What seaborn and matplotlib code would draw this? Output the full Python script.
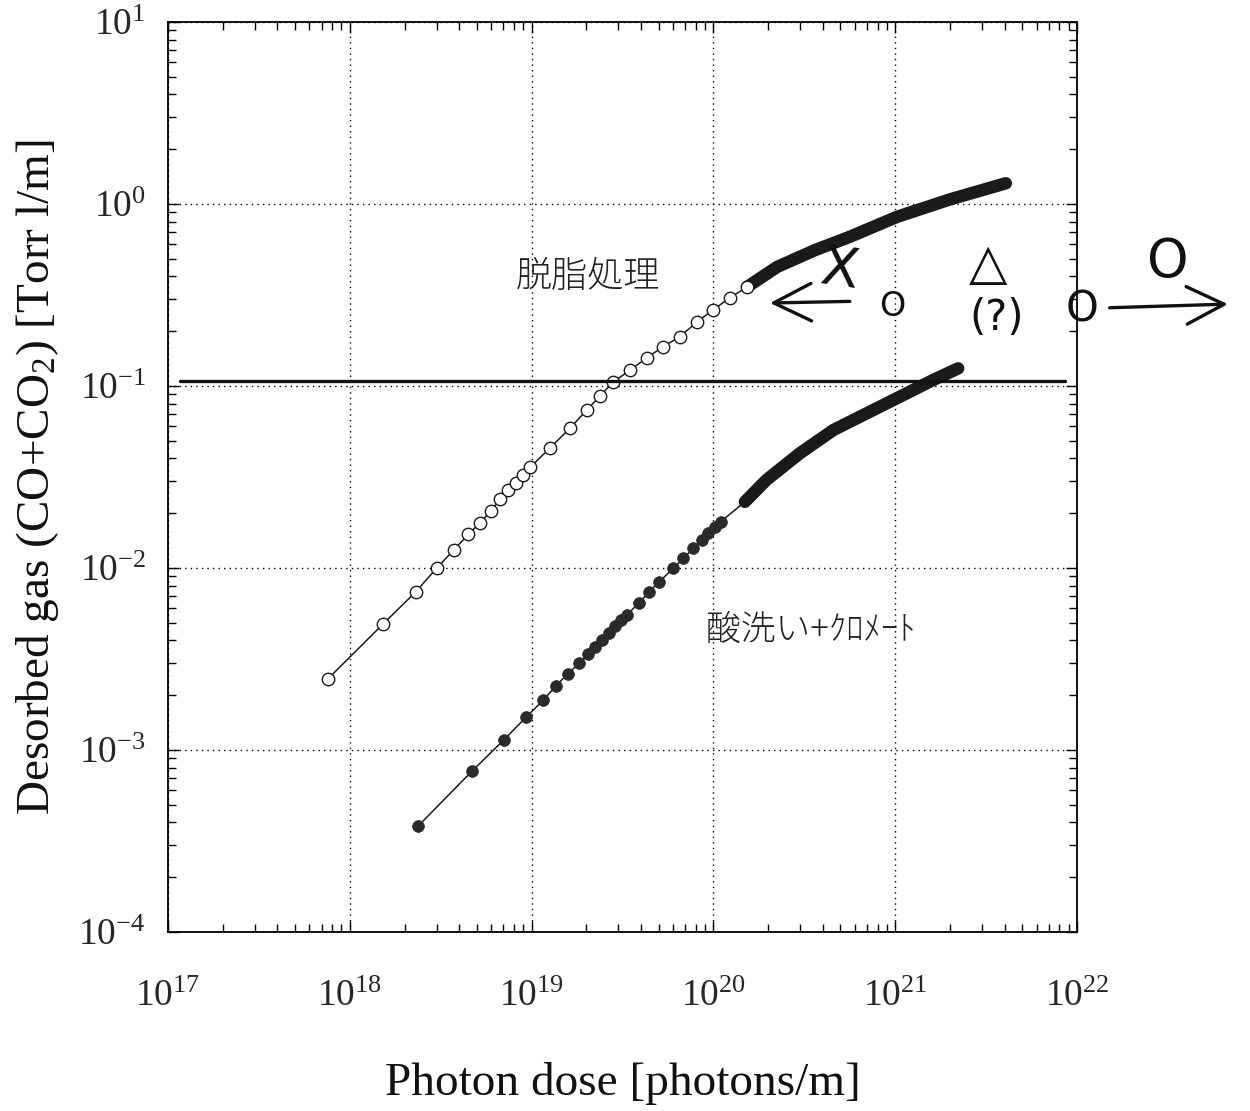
import matplotlib
matplotlib.use("Agg")
import matplotlib.pyplot as plt
import matplotlib.ticker as mticker
import numpy as np
import pandas as pd
import seaborn as sns

# ---------------- data ----------------
# 脱脂処理 (open circles): individually visible points
open_dose = [7.55e17, 1.52e18, 2.30e18, 3.01e18, 3.74e18, 4.49e18, 5.20e18,
             5.96e18, 6.70e18, 7.45e18, 8.20e18, 8.93e18, 9.80e18, 1.26e19,
             1.63e19, 2.01e19, 2.38e19, 2.80e19, 3.48e19, 4.30e19, 5.28e19,
             6.55e19, 8.13e19, 9.96e19, 1.23e20, 1.53e20]
open_gas = [2.45e-3, 4.91e-3, 7.38e-3, 1.00e-2, 1.26e-2, 1.53e-2, 1.77e-2,
            2.06e-2, 2.39e-2, 2.68e-2, 2.94e-2, 3.24e-2, 3.57e-2, 4.56e-2,
            5.88e-2, 7.38e-2, 8.81e-2, 0.105, 0.122, 0.143, 0.164,
            0.187, 0.225, 0.262, 0.305, 0.350]
# 脱脂処理: dense part (markers merge into a solid band)
open_band_dose = [1.53e20, 2.24e20, 3.62e20, 5.64e20, 1.02e21, 2.00e21, 4.06e21]
open_band_gas = [0.350, 0.451, 0.558, 0.661, 0.849, 1.06, 1.30]

# 酸洗い+クロメート (filled circles): individually visible points
filled_dose = [2.37e18, 4.69e18, 7.06e18, 9.35e18, 1.16e19, 1.36e19, 1.58e19,
               1.82e19, 2.03e19, 2.23e19, 2.44e19, 2.65e19, 2.88e19, 3.10e19,
               3.33e19, 3.90e19, 4.43e19, 5.04e19, 6.01e19, 6.82e19, 7.74e19,
               8.62e19, 9.38e19, 1.02e20, 1.10e20]
filled_gas = [3.81e-4, 7.64e-4, 1.14e-3, 1.52e-3, 1.88e-3, 2.25e-3, 2.62e-3,
              2.99e-3, 3.35e-3, 3.68e-3, 4.04e-3, 4.42e-3, 4.82e-3, 5.18e-3,
              5.52e-3, 6.43e-3, 7.41e-3, 8.41e-3, 9.95e-3, 1.13e-2, 1.28e-2,
              1.43e-2, 1.55e-2, 1.69e-2, 1.80e-2]
# 酸洗い+クロメート: dense part
filled_band_dose = [1.49e20, 1.96e20, 2.99e20, 4.57e20, 6.97e20, 1.06e21, 1.62e21, 2.22e21]
filled_band_gas = [2.31e-2, 3.05e-2, 4.27e-2, 5.73e-2, 7.08e-2, 8.73e-2, 0.108, 0.125]

# hand-drawn horizontal reference line
hand_line_level = 0.107

label_open = "脱脂処理"
label_filled = "酸洗い+ｸﾛﾒｰﾄ"
x_label = "Photon dose [photons/m]"
y_label = "Desorbed gas (CO+CO$_2$) [Torr l/m]"

# ---------------- style ----------------
sns.set_theme(style="ticks")
plt.rcParams["font.family"] = ["Liberation Serif", "DejaVu Serif"]
plt.rcParams["mathtext.fontset"] = "custom"
plt.rcParams["mathtext.rm"] = "Liberation Serif"
plt.rcParams["mathtext.it"] = "Liberation Serif:italic"
plt.rcParams["mathtext.bf"] = "Liberation Serif:bold"
plt.rcParams["axes.unicode_minus"] = False

fig = plt.figure(figsize=(12.5, 11.11), dpi=100)
ax = fig.add_axes([0.1344, 0.1611, 0.7272, 0.8191])
ax.set_xscale("log")
ax.set_yscale("log")
ax.set_xlim(1e17, 1e22)
ax.set_ylim(1e-4, 1e1)

open_all = pd.DataFrame({"dose": open_dose + open_band_dose[1:],
                         "gas": open_gas + open_band_gas[1:]})
filled_all = pd.DataFrame({"dose": filled_dose + filled_band_dose,
                           "gas": filled_gas + filled_band_gas})
open_pts = pd.DataFrame({"dose": open_dose, "gas": open_gas})
filled_pts = pd.DataFrame({"dose": filled_dose, "gas": filled_gas})
open_band = pd.DataFrame({"dose": open_band_dose, "gas": open_band_gas})
filled_band = pd.DataFrame({"dose": filled_band_dose, "gas": filled_band_gas})

ink = "#1a1a1a"
# thin connecting lines
sns.lineplot(data=open_all, x="dose", y="gas", estimator=None, color=ink,
             linewidth=1.1, ax=ax, zorder=3)
sns.lineplot(data=filled_all, x="dose", y="gas", estimator=None, color=ink,
             linewidth=1.1, ax=ax, zorder=3)
# dense bands
sns.lineplot(data=open_band, x="dose", y="gas", estimator=None, color=ink,
             linewidth=9.0, solid_capstyle="round", ax=ax, zorder=4)
sns.lineplot(data=filled_band, x="dose", y="gas", estimator=None, color=ink,
             linewidth=9.0, solid_capstyle="round", ax=ax, zorder=4)
# markers
sns.scatterplot(data=open_pts, x="dose", y="gas", marker="o", s=80,
                facecolor="white", edgecolor=ink, linewidth=1.0, ax=ax, zorder=5)
sns.scatterplot(data=filled_pts, x="dose", y="gas", marker="o", s=72,
                color="#2a2a2a", edgecolor="#2a2a2a", linewidth=0.5, ax=ax, zorder=5)

# grid & ticks
ax.grid(True, which="major", color="black", linestyle=(0, (1, 3)), linewidth=1.0)
ax.grid(False, which="minor")
ax.xaxis.set_major_locator(mticker.LogLocator(base=10, numticks=20))
ax.yaxis.set_major_locator(mticker.LogLocator(base=10, numticks=20))
ax.xaxis.set_minor_locator(mticker.LogLocator(base=10, subs=np.arange(2, 10), numticks=200))
ax.yaxis.set_minor_locator(mticker.LogLocator(base=10, subs=np.arange(2, 10), numticks=200))
ax.xaxis.set_minor_formatter(mticker.NullFormatter())
ax.yaxis.set_minor_formatter(mticker.NullFormatter())
ax.tick_params(which="both", direction="in", top=True, right=True, color="black", width=1.0)
ax.tick_params(which="major", length=8, labelsize=27)
ax.tick_params(which="minor", length=6)
ax.tick_params(axis="x", which="major", pad=34)
ax.tick_params(axis="y", which="major", pad=16)
for sp in ax.spines.values():
    sp.set_color("black")
    sp.set_linewidth(1.3)

ax.set_xlabel(x_label, fontsize=34, color="#111")
ax.set_ylabel(y_label, fontsize=34, color="#111")
ax.xaxis.set_label_coords(0.5, -0.143)
ax.yaxis.set_label_coords(-0.118, 0.5)

jp = ["Noto Sans CJK JP", "DejaVu Sans"]
ax.text(0.462, 0.720, label_open, transform=ax.transAxes, fontsize=26,
        family=jp, fontweight="light", ha="center", va="center", color="#222")
ax.text(0.707, 0.332, label_filled, transform=ax.transAxes, fontsize=25,
        family=jp, fontweight="light", ha="center", va="center", color="#222")

# ---------------- hand-written annotations ----------------
ax.axhline(hand_line_level, xmin=0.013, xmax=0.987, color="#111", linewidth=2.4, zorder=6)

hand = dict(transform=ax.transAxes, family=["DejaVu Sans"], color="#111",
            ha="center", va="center", clip_on=False, zorder=7)
ax.text(0.738, 0.727, "X", fontsize=40, rotation=-8, **hand)
ax.text(0.797, 0.687, "O", fontsize=24, **hand)
ax.text(0.902, 0.733, "△", fontsize=36, **hand)
ax.text(0.912, 0.675, "(?)", fontsize=30, **hand)
ax.text(1.0055, 0.684, "O", fontsize=30, **hand)
ax.text(1.100, 0.736, "O", fontsize=38, **hand)

arrow_style = dict(arrowstyle="->,head_length=0.9,head_width=0.45", lw=2.4,
                   color="#111", shrinkA=0, shrinkB=0, mutation_scale=30)
ax.annotate("", xy=(0.6623, 0.6912), xytext=(0.750, 0.693), xycoords="axes fraction",
            textcoords="axes fraction", arrowprops=arrow_style, annotation_clip=False)
ax.annotate("", xy=(1.166, 0.690), xytext=(1.036, 0.686), xycoords="axes fraction",
            textcoords="axes fraction", arrowprops=arrow_style, annotation_clip=False)

fig.savefig("out.png", dpi=100)
